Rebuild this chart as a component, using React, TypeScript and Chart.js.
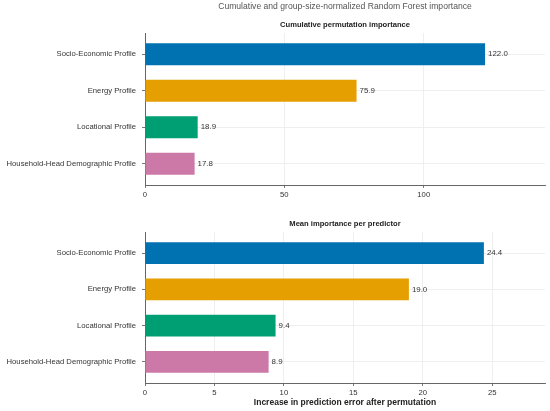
import { useEffect, useRef } from "react";
import { Chart, registerables } from "chart.js";

Chart.register(...registerables);

const categories = [
  "Socio-Economic Profile",
  "Energy Profile",
  "Locational Profile",
  "Household-Head Demographic Profile",
];
const cumulativeValues = [122.0, 75.9, 18.9, 17.8];
const meanValues = [24.4, 19.0, 9.4, 8.9];
const barColors = ["#0072B2", "#E69F00", "#009E73", "#CC79A7"];
const cumulativeTicks = [0, 50, 100];
const meanTicks = [0, 5, 10, 15, 20, 25];

const FONT = '"Liberation Sans", Arial, sans-serif';

// draws the panel title (and figure title) centred over the plot area, plus value labels
function makeTextPlugin(values: number[], subtitle: string, mainTitle?: string) {
  return {
    id: "panelText",
    afterDatasetsDraw(chart: any) {
      const { ctx, chartArea } = chart;
      const cx = (chartArea.left + chartArea.right) / 2;
      ctx.save();
      ctx.textAlign = "center";
      ctx.textBaseline = "middle";
      if (mainTitle) {
        ctx.font = `8.6px ${FONT}`;
        ctx.fillStyle = "#555";
        ctx.fillText(mainTitle, cx, 7);
      }
      ctx.font = `bold 7.6px ${FONT}`;
      ctx.fillStyle = "#222";
      ctx.fillText(subtitle, cx, chartArea.top - 8);

      ctx.textAlign = "left";
      ctx.font = `7.9px ${FONT}`;
      ctx.fillStyle = "#333";
      const meta = chart.getDatasetMeta(0);
      meta.data.forEach((bar: any, i: number) => {
        ctx.fillText(values[i].toFixed(1), bar.x + 3, bar.y);
      });
      ctx.restore();
    },
  };
}

function buildConfig(
  values: number[],
  xMax: number,
  xTicks: number[],
  topPad: number,
  xHeight: number,
  subtitle: string,
  mainTitle?: string,
  xLabel?: string
): any {
  const gridStyle = {
    color: "#ebebeb",
    lineWidth: 0.8,
    tickLength: 3,
    tickColor: "#555",
    offset: false,
  };
  return {
    type: "bar",
    data: {
      datasets: [
        {
          data: values.map((v, i) => ({ x: v, y: i })),
          backgroundColor: barColors,
          borderWidth: 0,
          barPercentage: 0.6,
          categoryPercentage: 1,
        },
      ],
    },
    options: {
      indexAxis: "y",
      animation: false,
      responsive: true,
      maintainAspectRatio: false,
      layout: { padding: { top: topPad, right: 5, left: 0, bottom: 0 } },
      plugins: {
        legend: { display: false },
        tooltip: { enabled: false },
      },
      scales: {
        x: {
          type: "linear",
          position: "bottom",
          offset: false,
          min: 0,
          max: xMax,
          afterBuildTicks: (s: any) => {
            s.ticks = xTicks.map((v) => ({ value: v }));
          },
          afterFit: (s: any) => {
            s.height = xHeight;
          },
          ticks: {
            font: { family: FONT, size: 7.7 },
            color: "#333",
            padding: 2,
            maxRotation: 0,
          },
          grid: gridStyle,
          border: { color: "#666", width: 1 },
          title: {
            display: !!xLabel,
            text: xLabel || "",
            font: { family: FONT, size: 8.5, weight: "bold" },
            color: "#222",
            padding: { top: 0, bottom: 3 },
          },
        },
        y: {
          type: "linear",
          reverse: true,
          offset: false,
          min: -0.58,
          max: 3.58,
          afterBuildTicks: (s: any) => {
            s.ticks = categories.map((_, i) => ({ value: i }));
          },
          afterFit: (s: any) => {
            s.width = 145;
          },
          ticks: {
            callback: (v: any) => categories[v as number],
            font: { family: FONT, size: 7.7 },
            color: "#333",
            padding: 6,
          },
          grid: gridStyle,
          border: { color: "#666", width: 1 },
        },
      },
    },
    plugins: [makeTextPlugin(values, subtitle, mainTitle)],
  };
}

function Panel(props: { height: number; config: any }) {
  const canvasRef = useRef<HTMLCanvasElement>(null);
  const chartInstance = useRef<Chart | null>(null);

  useEffect(() => {
    if (!canvasRef.current) return;
    if (chartInstance.current) chartInstance.current.destroy();
    chartInstance.current = new Chart(canvasRef.current, props.config);
    return () => {
      if (chartInstance.current) {
        chartInstance.current.destroy();
        chartInstance.current = null;
      }
    };
  }, []);

  return (
    <div style={{ position: "relative", width: 550, height: props.height }}>
      <canvas ref={canvasRef} />
    </div>
  );
}

export default function App() {
  const topConfig = buildConfig(
    cumulativeValues,
    143.5,
    cumulativeTicks,
    33,
    20,
    "Cumulative permutation importance",
    "Cumulative and group-size-normalized Random Forest importance"
  );
  const bottomConfig = buildConfig(
    meanValues,
    28.8,
    meanTicks,
    27,
    28,
    "Mean importance per predictor",
    undefined,
    "Increase in prediction error after permutation"
  );

  return (
    <div
      style={{
        position: "absolute",
        left: 0,
        top: 0,
        width: 550,
        height: 411,
        background: "#fff",
      }}
    >
      <Panel height={205} config={topConfig} />
      <Panel height={206} config={bottomConfig} />
    </div>
  );
}
